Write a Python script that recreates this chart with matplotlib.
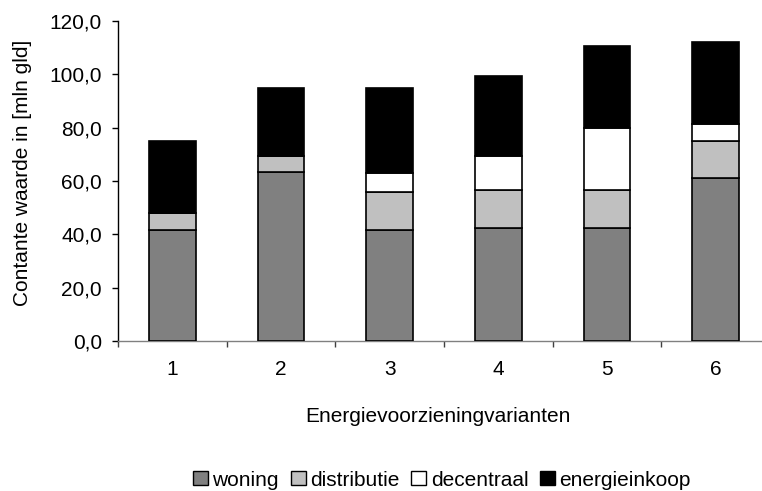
import numpy as np
import matplotlib
matplotlib.use("Agg")
import matplotlib.pyplot as plt
from matplotlib.patches import Patch
from matplotlib.ticker import FuncFormatter, FixedLocator

plt.rcParams['font.family'] = ['Liberation Sans', 'DejaVu Sans']
plt.rcParams['font.size'] = 15

varianten = ['1', '2', '3', '4', '5', '6']
woning = [41.5, 63.3, 41.5, 42.3, 42.3, 61.0]
distributie = [6.5, 6.2, 14.3, 14.3, 14.3, 14.0]
decentraal = [0.0, 0.0, 7.2, 12.9, 23.4, 6.5]
energieinkoop = [26.9, 25.4, 32.0, 30.0, 30.5, 30.5]

series = [
    ('woning', woning, '#808080'),
    ('distributie', distributie, '#c0c0c0'),
    ('decentraal', decentraal, '#ffffff'),
    ('energieinkoop', energieinkoop, '#000000'),
]

fig = plt.figure(figsize=(7.62, 4.91), dpi=100)
W, H = 762, 491
# plot area in pixels: x 118..770, y 21..341
ax = fig.add_axes([118 / W, (H - 341) / H, (770 - 118) / W, 320 / H])

x = np.arange(len(varianten))
bottom = np.zeros(len(varianten))
for name, vals, color in series:
    vals = np.array(vals)
    ax.bar(x, vals, width=0.43, bottom=bottom, color=color,
           edgecolor='black', linewidth=1.2, label=name, zorder=3)
    bottom += vals

ax.set_xlim(-0.5, 5.5)
ax.set_ylim(0, 120)
ax.set_yticks(np.arange(0, 121, 20))
ax.yaxis.set_major_formatter(FuncFormatter(lambda v, p: f"{v:.1f}".replace('.', ',')))

ax.set_xticks(x)
ax.set_xticklabels(varianten)
ax.xaxis.set_minor_locator(FixedLocator(np.arange(-0.5, 6, 1)))
ax.tick_params(axis='x', which='major', length=0, pad=14)
ax.tick_params(axis='x', which='minor', length=4, width=1, color='#404040', direction='out')
ax.tick_params(axis='y', length=4.5, width=1, direction='out', pad=7)

for s in ['top', 'right']:
    ax.spines[s].set_visible(False)
ax.spines['left'].set_color('black')
ax.spines['left'].set_linewidth(1)
ax.spines['bottom'].set_color('#808080')
ax.spines['bottom'].set_linewidth(1)

fig.text(23 / W, 1 - 173 / H, 'Contante waarde in [mln gld]', rotation=90,
         ha='center', va='center')
fig.text(438 / W, 1 - 421.7 / H, 'Energievoorzieningvarianten',
         ha='center', va='baseline')

handles = [Patch(facecolor=c, edgecolor='black', linewidth=1, label=n)
           for n, _, c in series]
fig.legend(handles=handles, loc='center', bbox_to_anchor=(442 / W, 1 - 480 / H),
           ncol=4, frameon=False, handlelength=0.72, handleheight=0.68,
           handletextpad=0.2, columnspacing=0.58, borderaxespad=0,
           borderpad=0)

fig.savefig('out.png', dpi=100)
